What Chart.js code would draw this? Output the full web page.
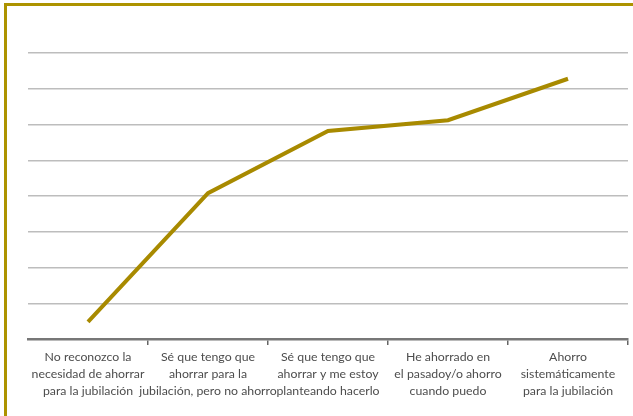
<!DOCTYPE html>
<html>
<head>
<meta charset="utf-8">
<script src="https://cdn.jsdelivr.net/npm/chart.js@4/dist/chart.umd.min.js"></script>
<style>
  html, body { margin: 0; padding: 0; background: #fff; }
  #wrap { position: relative; width: 633px; height: 416px; overflow: hidden; }
  #frame { position: absolute; left: 4px; top: 3px; width: 700px; height: 500px;
           border-left: 3px solid #AD9300; border-top: 3px solid #AD9300; box-sizing: border-box; }
  canvas { position: absolute; left: 0; top: 0; }
</style>
</head>
<body>
<div id="wrap">
  <div id="frame"></div>
  <canvas id="c" width="633" height="416"></canvas>
</div>
<script>
const categories = [
  ["No reconozco la", "necesidad de ahorrar", "para la jubilación"],
  ["Sé que tengo que", "ahorrar para la", "jubilación, pero no ahorro"],
  ["Sé que tengo que", "ahorrar y me estoy", "planteando hacerlo"],
  ["He ahorrado en", "el pasadoy/o ahorro", "cuando puedo"],
  ["Ahorro", "sistemáticamente", "para la jubilación"]
];
const values = [2.4, 20.4, 29.1, 30.6, 36.4];
const yMin = 0, yMax = 40, yStep = 5;

new Chart(document.getElementById('c'), {
  type: 'line',
  data: {
    labels: categories,
    datasets: [{
      data: values,
      borderColor: '#A88A00',
      borderWidth: 4,
      pointRadius: 0,
      tension: 0,
      fill: false
    }]
  },
  options: {
    responsive: false,
    animation: false,
    layout: { padding: { left: 28, right: 5, top: 53, bottom: 12 } },
    plugins: { legend: { display: false }, tooltip: { enabled: false } },
    scales: {
      x: {
        offset: true,
        grid: { offset: true, drawOnChartArea: false, drawTicks: true, tickLength: 6,
                color: (ctx) => ctx.index === 0 ? 'rgba(0,0,0,0)' : '#666', lineWidth: 1.5 },
        border: { display: true, color: '#777', width: 2.5 },
        ticks: { color: '#4d4d4d', font: { family: 'Lato', size: 12.3, lineHeight: '17px' }, padding: 4, maxRotation: 0, autoSkip: false }
      },
      y: {
        min: yMin, max: yMax,
        ticks: { display: false, stepSize: yStep },
        grid: { color: '#BDBDBD', lineWidth: 1.5, drawTicks: false },
        border: { display: false }
      }
    }
  }
});
</script>
</body>
</html>
